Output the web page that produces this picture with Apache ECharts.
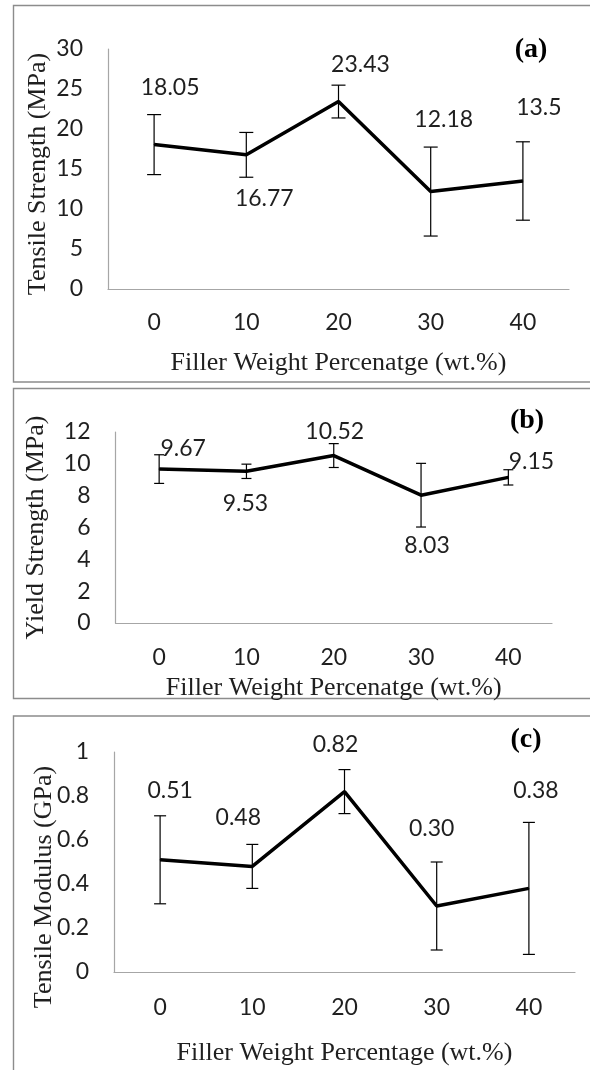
<!DOCTYPE html>
<html>
<head>
<meta charset="utf-8">
<script src="https://cdn.jsdelivr.net/npm/echarts@6/dist/echarts.min.js"></script>
<style>
html,body{margin:0;padding:0;background:#fff;}
#chart{width:590px;height:1070px;}
</style>
</head>
<body>
<div id="chart"></div>
<script>
// ---- data ----
const categories = ['0', '10', '20', '30', '40'];
const tensileStrength = [18.05, 16.77, 23.43, 12.18, 13.5];
const tensileStrengthErr = [3.75, 2.8, 2.05, 5.56, 4.9];
const yieldStrength = [9.67, 9.53, 10.52, 8.03, 9.15];
const yieldStrengthErr = [0.9, 0.45, 0.75, 2.0, 0.48];
const tensileModulus = [0.51, 0.48, 0.82, 0.30, 0.38];
const tensileModulusErr = [0.2, 0.1, 0.1, 0.2, 0.3];
const xAxisNameA = 'Filler Weight Percenatge (wt.%)';
const xAxisNameB = 'Filler Weight Percenatge (wt.%)';
const xAxisNameC = 'Filler Weight Percentage (wt.%)';
const yAxisNameA = 'Tensile Strength (MPa)';
const yAxisNameB = 'Yield Strength (MPa)';
const yAxisNameC = 'Tensile Modulus (GPa)';
const panelTags = ['(a)', '(b)', '(c)'];

// ---- layout (label offsets, not data) ----
const labelOffA = [[16, -57], [18, 44], [22, -37], [13, -72], [16, -73]];
const labelOffB = [[24, -21], [-1, 32], [1, -24], [6, 50], [23, -16]];
const labelOffC = [[10, -69], [-14, -49], [-9, -47], [-5, -77], [7, -98]];

const NUM_FONT = 'Lato';
const SERIF = 'Liberation Serif';
const TXT = '#1f1f1f';

const chart = echarts.init(document.getElementById('chart'), null, {renderer: 'canvas'});

function lineData(vals, offs, fmt) {
  return vals.map((v, i) => ({
    value: v,
    label: {offset: offs[i], formatter: fmt ? fmt(v) : String(v)}
  }));
}
function errData(vals, errs) {
  return vals.map((v, i) => [i, v - errs[i], v + errs[i]]);
}
function errSeries(idx, vals, errs, cap) {
  return {
    type: 'custom', xAxisIndex: idx, yAxisIndex: idx,
    data: errData(vals, errs), z: 1, silent: true,
    renderItem: function (params, api) {
      const lo = api.coord([api.value(0), api.value(1)]);
      const hi = api.coord([api.value(0), api.value(2)]);
      const st = {stroke: '#000', lineWidth: 1.2};
      return {type: 'group', children: [
        {type: 'line', shape: {x1: lo[0], y1: lo[1], x2: hi[0], y2: hi[1]}, style: st},
        {type: 'line', shape: {x1: lo[0] - cap, y1: lo[1], x2: lo[0] + cap, y2: lo[1]}, style: st},
        {type: 'line', shape: {x1: hi[0] - cap, y1: hi[1], x2: hi[0] + cap, y2: hi[1]}, style: st}
      ]};
    }
  };
}
function lineSeries(idx, data) {
  return {
    type: 'line', xAxisIndex: idx, yAxisIndex: idx, data: data, z: 3,
    symbol: 'circle', symbolSize: 1, showSymbol: true,
    itemStyle: {color: '#000'},
    lineStyle: {color: '#000', width: 3.5},
    label: {show: true, position: 'inside', fontFamily: NUM_FONT, fontSize: 23, color: TXT},
    animation: false
  };
}
function xAxis(idx, name, gap, margin) {
  return {
    type: 'category', gridIndex: idx, data: categories, boundaryGap: true,
    axisLine: {show: true, lineStyle: {color: '#a6a6a6', width: 1.2}},
    axisTick: {show: false},
    axisLabel: {fontFamily: NUM_FONT, fontSize: 23, lineHeight: 23, color: TXT, margin: margin},
    name: name, nameLocation: 'middle', nameGap: gap, nameMoveOverlap: false,
    nameTextStyle: {fontFamily: SERIF, fontSize: 26, lineHeight: 26, color: TXT},
    splitLine: {show: false}
  };
}
function yAxis(idx, name, max, interval, gap, pad) {
  return {
    type: 'value', gridIndex: idx, min: 0, max: max, interval: interval,
    axisLine: {show: true, lineStyle: {color: '#a6a6a6', width: 1.2}},
    axisTick: {show: false},
    axisLabel: {fontFamily: NUM_FONT, fontSize: 23, color: TXT, margin: 25},
    splitLine: {show: false},
    name: name, nameLocation: 'middle', nameGap: gap, nameMoveOverlap: false,
    nameTextStyle: {fontFamily: SERIF, fontSize: 26, lineHeight: 26, color: TXT, padding: pad}
  };
}
function tag(text, x, y) {
  return {
    type: 'text', x: x, y: y, z: 10,
    style: {text: text, font: 'bold 28px "Liberation Serif"', fill: '#000', align: 'center', verticalAlign: 'middle'}
  };
}
function box(y, h) {
  return {
    type: 'rect', shape: {x: 13.5, y: y, width: 600, height: h}, z: -1,
    style: {fill: '#fff', stroke: '#8c8c8c', lineWidth: 1.4}
  };
}

chart.setOption({
  animation: false,
  backgroundColor: '#fff',
  grid: [
    {left: 108, top: 49, right: 21, bottom: 781},
    {left: 115.5, top: 432, right: 38, bottom: 447},
    {left: 114, top: 752, right: 15, bottom: 98}
  ],
  xAxis: [
    xAxis(0, xAxisNameA, 61, 22),
    xAxis(1, xAxisNameB, 52, 23),
    xAxis(2, xAxisNameC, 68, 24)
  ],
  yAxis: [
    yAxis(0, yAxisNameA, 30, 5, 57, [0, 10, 0, 0]),
    yAxis(1, yAxisNameB, 12, 2, 66, [0, 0, 0, 0]),
    yAxis(2, yAxisNameC, 1, 0.2, 57, [0, 50, 0, 0])
  ],
  series: [
    errSeries(0, tensileStrength, tensileStrengthErr, 7),
    lineSeries(0, lineData(tensileStrength, labelOffA)),
    errSeries(1, yieldStrength, yieldStrengthErr, 5),
    lineSeries(1, lineData(yieldStrength, labelOffB)),
    errSeries(2, tensileModulus, tensileModulusErr, 6),
    lineSeries(2, lineData(tensileModulus, labelOffC, v => v.toFixed(2)))
  ],
  graphic: [
    box(5.5, 376.5),
    box(388.5, 310),
    box(716, 400),
    tag(panelTags[0], 531, 50),
    tag(panelTags[1], 527, 421),
    tag(panelTags[2], 526, 740)
  ]
});
</script>
</body>
</html>
